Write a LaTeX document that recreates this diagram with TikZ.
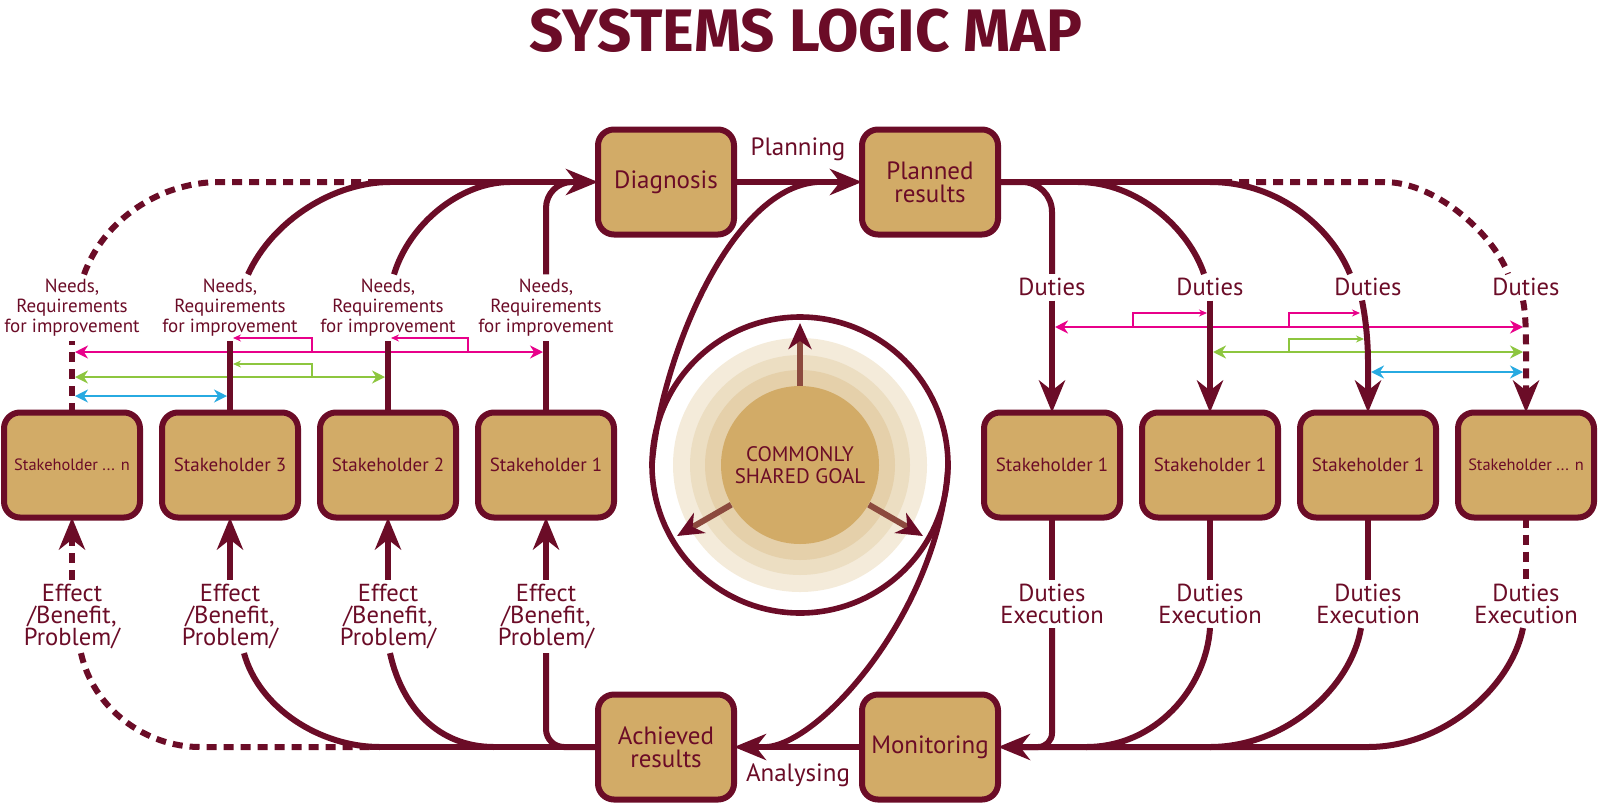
\documentclass[tikz,border=0pt]{standalone}
\usepackage{fontspec}
\setmainfont{PT Sans}
\newfontfamily\headfont{Fira Sans}
\usetikzlibrary{arrows.meta,positioning}
\definecolor{mapwine}{HTML}{6B0C27}
\definecolor{mapsand}{HTML}{D2AB67}
\definecolor{ringlight}{HTML}{F4EBDA}
\definecolor{ringmid}{HTML}{ECDEC2}
\definecolor{ringdeep}{HTML}{E5D0AA}
\definecolor{goalshaft}{HTML}{8C4A3E}
\definecolor{linkpink}{HTML}{E8008A}
\definecolor{linkgreen}{HTML}{8DC63F}
\definecolor{linkblue}{HTML}{27AAE1}

\begin{document}
\begin{tikzpicture}[x=0.5pt,y=-0.5pt,
  >={Stealth[length=16pt,width=13pt,inset=5pt]},
  box/.style={draw=mapwine,fill=mapsand,line width=3pt,rounded corners=8pt,
    minimum width=68pt,minimum height=52.5pt,outer sep=0pt,inner sep=1pt,
    align=center,text=mapwine,font=\fontsize{12.5}{11.5}\selectfont},
  holder/.style={box,font=\fontsize{9.5}{11}\selectfont},
  lastholder/.style={box,font=\fontsize{8.2}{10}\selectfont},
  tag/.style={text=mapwine,align=center,inner sep=2pt,
    font=\fontsize{12.3}{11}\selectfont},
  needtag/.style={tag,font=\fontsize{9.5}{10}\selectfont},
  flow/.style={draw=mapwine,line width=3pt},
  dotflow/.style={flow,dash pattern=on 5pt off 3.5pt},
  link/.style={line width=1pt,
    arrows={Stealth[length=6.5pt,width=6.5pt]-Stealth[length=6.5pt,width=6.5pt]}},
  hook/.style={line width=.8pt,arrows={-Stealth[length=4pt,width=3.5pt]}},
  ray/.style={draw=goalshaft,line width=3pt,
    arrows={-Stealth[length=13pt,width=11.5pt,inset=4pt,color=mapwine]}}
]
\useasboundingbox (0,0) rectangle (1600,804);

\node[text=mapwine,font=\headfont\bfseries\fontsize{30}{31}\selectfont]
  (title) at (806,31) {SYSTEMS LOGIC MAP};

% commonly shared goal
\fill[ringlight] (800,465) circle[radius=63.5pt];
\fill[ringmid] (800,465) circle[radius=55pt];
\fill[ringdeep] (800,465) circle[radius=47.5pt];
\node[circle,fill=mapsand,minimum size=79pt,inner sep=0pt,text=mapwine,
  align=center,font=\fontsize{10.5}{11}\selectfont] (goal) at (800,465)
  {COMMONLY\\SHARED GOAL};
\foreach \a in {90,210,330}
  \draw[ray] (goal.\a) -- ([shift={(\a:71pt)}]goal.center);
\draw[flow,line width=2.8pt] (goal.center) circle[radius=74pt];

% main cycle
\node[box] (diag) at (666,182) {Diagnosis};
\node[box,right=64pt of diag] (plan) {Planned\\results};
\node[box] (achv) at (666,747) {Achieved\\results};
\node[box,right=64pt of achv] (mon) {Monitoring};

% stakeholders
\node[lastholder] (ln) at (72,465) {Stakeholder ... n};
\node[holder,right=11pt of ln] (l3) {Stakeholder 3};
\node[holder,right=11pt of l3] (l2) {Stakeholder 2};
\node[holder,right=11pt of l2] (l1) {Stakeholder 1};
\node[holder] (ra) at (1052,465) {Stakeholder 1};
\node[holder,right=11pt of ra] (rb) {Stakeholder 1};
\node[holder,right=11pt of rb] (rc) {Stakeholder 1};
\node[lastholder,right=11pt of rc] (rn) {Stakeholder ... n};

\foreach \src/\lbl in {ln/needn,l3/need3,l2/need2,l1/need1}
  \node[needtag,above=36pt of \src] (\lbl) {Needs,\\Requirements\\for improvement};
\foreach \src/\lbl in {ln/effn,l3/eff3,l2/eff2,l1/eff1}
  \node[tag,below=31pt of \src] (\lbl) {Effect\\/Benefit,\\Problem/};
\foreach \src/\lbl in {ra/dua,rb/dub,rc/duc,rn/dun}
  \node[tag,above=56pt of \src] (\lbl) {Duties};
\foreach \src/\lbl in {ra/exa,rb/exb,rc/exc,rn/exn}
  \node[tag,below=31pt of \src] (\lbl) {Duties\\Execution};

% levels of the colour links
\coordinate (pinkL) at (0,352); \coordinate (pinkLh) at (0,338);
\coordinate (greenL) at (0,377); \coordinate (greenLh) at (0,364);
\coordinate (blueL) at (0,396);
\coordinate (pinkR) at (0,327); \coordinate (pinkRh) at (0,313);
\coordinate (greenR) at (0,352); \coordinate (greenRh) at (0,339);
\coordinate (blueR) at (0,372);

\draw[link,linkpink] ([xshift=1.5pt]ln.north |- pinkL) -- ([xshift=-1.5pt]l1.north |- pinkL);
\draw[link,linkgreen] ([xshift=1.5pt]ln.north |- greenL) -- ([xshift=-1.5pt]l2.north |- greenL);
\draw[link,linkblue] ([xshift=1.5pt]ln.north |- blueL) -- ([xshift=-1.5pt]l3.north |- blueL);
\draw[hook,linkpink] ([xshift=41pt]l3.north |- pinkL) |- ([xshift=1.5pt]l3.north |- pinkLh);
\draw[hook,linkpink] ([xshift=40pt]l2.north |- pinkL) |- ([xshift=1.5pt]l2.north |- pinkLh);
\draw[hook,linkgreen] ([xshift=41pt]l3.north |- greenL) |- ([xshift=1.5pt]l3.north |- greenLh);

\draw[link,linkpink] ([xshift=1.5pt]ra.north |- pinkR) -- ([xshift=-1.5pt]rn.north |- pinkR);
\draw[link,linkgreen] ([xshift=1.5pt]rb.north |- greenR) -- ([xshift=-1.5pt]rn.north |- greenR);
\draw[link,linkblue] ([xshift=1.5pt]rc.north |- blueR) -- ([xshift=-1.5pt]rn.north |- blueR);
\draw[hook,linkpink] ([xshift=-38.5pt]rb.north |- pinkR) |- ([xshift=-1.5pt]rb.north |- pinkRh);
\draw[hook,linkpink] ([xshift=-39.5pt]rc.north |- pinkR) |- ([xshift=-4pt]rc.north |- pinkRh);
\draw[hook,linkgreen] ([xshift=-39.5pt]rc.north |- greenR) |- ([xshift=-2pt]rc.north |- greenRh);

% needs towards diagnosis
\coordinate (jn) at (372,182);
\draw[flow,->] (jn) -- (diag.west);
\draw[flow] (l1.north) -- (need1.south);
\draw[flow,rounded corners=13pt] (need1.north) |- ([xshift=-14pt]diag.west);
\draw[flow] (l2.north) -- (need2.south);
\draw[flow] ([xshift=3pt]need2.north) .. controls +(15,-50) and +(-50,0) .. ([xshift=-44pt]diag.west);
\draw[flow] (l3.north) -- (need3.south);
\draw[flow] ([xshift=9pt]need3.north) .. controls +(25,-55) and +(-55,0) .. ([xshift=-104pt]diag.west);
\draw[dotflow] (ln.north) -- (needn.south);
\draw[dotflow] ([xshift=6pt]needn.north) .. controls +(20,-55) and +(-60,0) .. ([xshift=-189pt]diag.west) -- (jn);

% duties from planned results
\coordinate (jr) at (1222,182);
\draw[flow] (plan.east) -- (jr);
\draw[dotflow] (jr) -- ++(162,0) .. controls +(55,0) and +(-12,-35) .. ([xshift=-9pt]dun.north);
\draw[dotflow,->] ([xshift=-1.5pt]dun.south) .. controls +(3,15) and +(0,-15) .. ([yshift=30pt]rn.north) -- (rn.north);
\draw[flow,rounded corners=15pt] (plan.east) -| (dua.north);
\draw[flow,->] (dua.south) -- (ra.north);
\draw[flow] ([xshift=40pt]plan.east) .. controls +(60,0) and +(-15,-45) .. ([xshift=-3pt]dub.north);
\draw[flow,->] (dub.south) -- (rb.north);
\draw[flow] ([xshift=106pt]plan.east) .. controls +(70,0) and +(-18,-45) .. ([xshift=-9pt]duc.north);
\draw[flow,->] ([xshift=-3pt]duc.south) .. controls +(4,20) and +(0,-20) .. ([yshift=25pt]rc.north) -- (rc.north);

% execution towards monitoring
\draw[flow] (ra.south) -- (exa.north);
\draw[flow] (rb.south) -- (exb.north);
\draw[flow] (rc.south) -- (exc.north);
\draw[dotflow] (rn.south) -- (exn.north);
\draw[flow,->] ([xshift=-1.5pt]exn.south) .. controls +(-12,60) and +(75,0) .. (rc.south |- mon.east) -- (mon.east);
\draw[flow] ([xshift=-3.5pt]exc.south) .. controls +(-10,60) and +(75,0) .. (rb.south |- mon.east);
\draw[flow] (exb.south) .. controls +(-4,60) and +(70,0) .. ([xshift=17pt]ra.south |- mon.east);
\draw[flow,rounded corners=7pt] (exa.south) |- ([xshift=-16pt]ra.south |- mon.east);

% effects from achieved results
\coordinate (jbl) at (370,747);
\draw[flow] (jbl) -- (achv.west);
\draw[flow,->] (eff1.north) -- (l1.south);
\draw[flow,rounded corners=9pt] (eff1.south) |- (achv.west);
\draw[flow,->] (eff2.north) -- (l2.south);
\draw[flow] ([xshift=1pt]eff2.south) .. controls +(12,55) and +(-55,0) .. ([xshift=-52pt]achv.west);
\draw[flow,->] (eff3.north) -- (l3.south);
\draw[flow] ([xshift=7pt]eff3.south) .. controls +(15,55) and +(-60,0) .. ([xshift=-109pt]achv.west);
\draw[dotflow,->] (effn.north) -- (ln.south);
\draw[dotflow] ([xshift=4.5pt]effn.south) .. controls +(12,55) and +(-55,0) .. ([xshift=-199pt]achv.west) -- (jbl);

% planning, analysing and the spiral round the goal
\draw[flow,->] (diag.east) -- node[tag,above=7pt,font=\fontsize{12.5}{13}\selectfont] (plabel) {Planning} (plan.west);
\draw[flow,->] (mon.west) -- node[tag,below=5pt,font=\fontsize{12.5}{13}\selectfont] (alabel) {Analysing} (achv.east);
\draw[flow,line width=2.8pt] ([shift={(180:74pt)}]goal.center) .. controls +(8,-105) and +(-90,0) .. ([xshift=-20pt]plan.west);
\draw[flow,line width=2.8pt] ([shift={(0:74pt)}]goal.center) .. controls +(-8,145) and +(55,0) .. ([xshift=15pt]achv.east);
\end{tikzpicture}
\end{document}
